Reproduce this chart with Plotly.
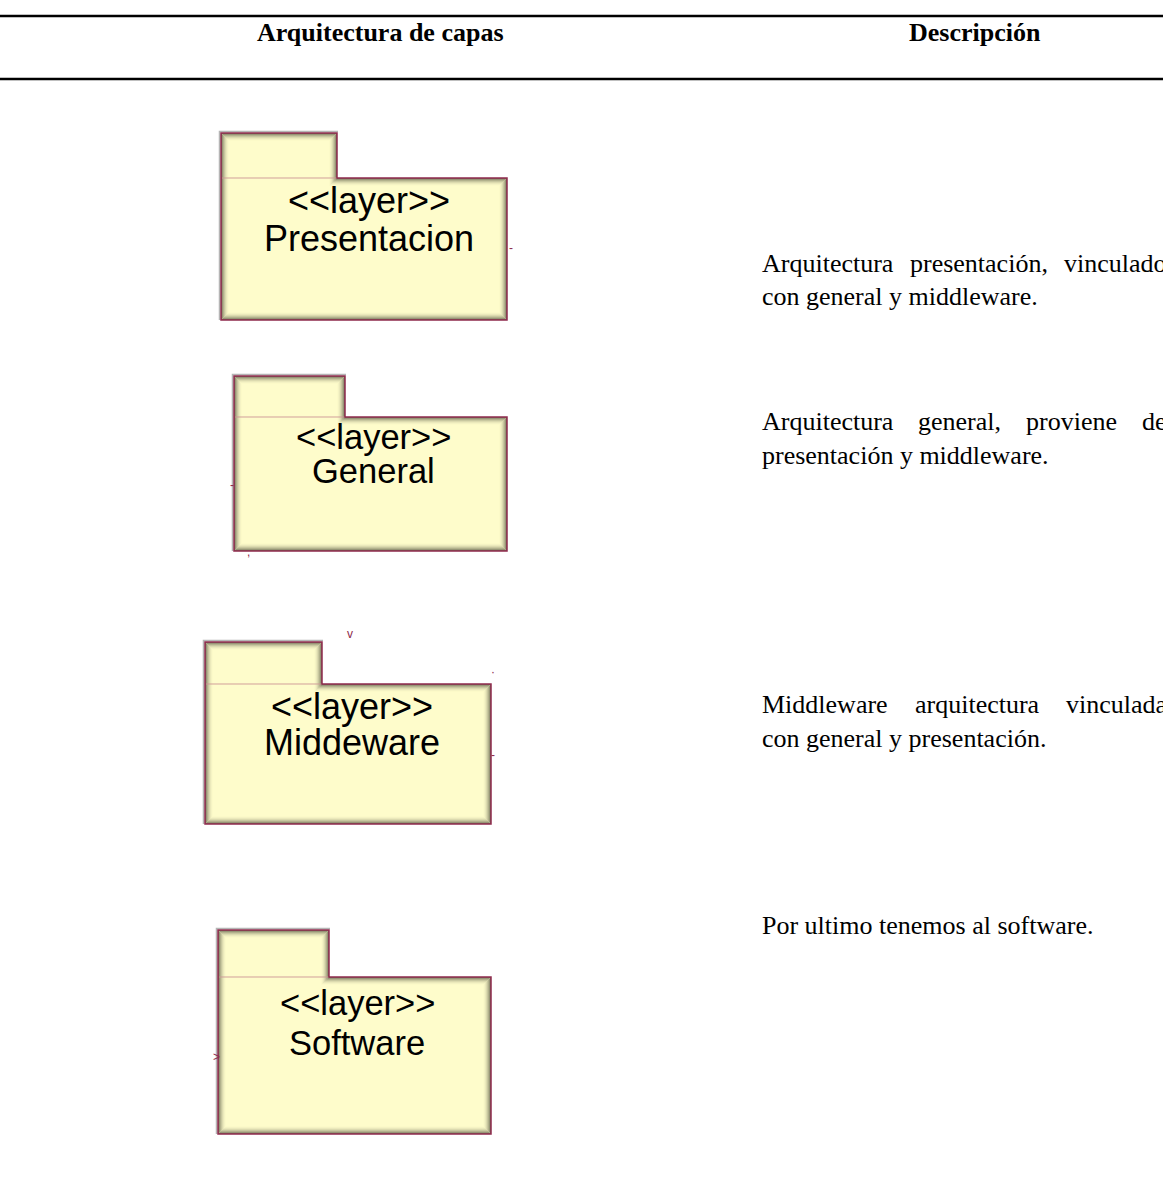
import plotly.graph_objects as go

# ---------------- data ----------------
header_labels = ["Arquitectura de capas", "Descripción"]
stereotype = "<<layer>>"
layer_names = ["Presentacion", "General", "Middeware", "Software"]
descriptions = [
    ["Arquitectura presentación, vinculado", "con general y middleware."],
    ["Arquitectura general, proviene de", "presentación y middleware."],
    ["Middleware arquitectura vinculada", "con general y presentación."],
    ["Por ultimo tenemos al software."],
]

# ---------------- layout (pixel geometry) ----------------
W, H = 1163, 1188
# x0, tab_x1, x1, tab_y0, body_y0, body_y1
box_geom = [
    (221, 337, 507, 133, 178, 320),
    (234, 345, 507, 376, 417, 551),
    (205, 322, 491, 642, 684, 824),
    (218, 329, 491, 930, 977, 1134),
]
# centre x, stereotype y, name y, font size
box_text = [
    (369, 200, 238, 36),
    (373, 437, 471, 34.5),
    (352, 706, 742, 36),
    (357, 1003, 1043, 34.5),
]
desc_x0, desc_x1 = 760, 1165
desc_y = [[263, 296], [421, 455], [704, 738], [925]]
desc_font = 26
header_x = [380, 975]
header_y = 32
rule_y = [16, 79]

FILL = "#FEFCCB"
BORDER = "#8E2A4C"
SERIF = "Liberation Serif, Times New Roman, serif"
SANS = "Liberation Sans, Arial, sans-serif"

# Times New Roman advance widths (per 1000 em)
TW = {"A": 722, "M": 889, "P": 556, "a": 444, "c": 444, "d": 500, "e": 444,
      "f": 333, "g": 500, "i": 278, "l": 278, "m": 778, "n": 500, "o": 500,
      "p": 500, "q": 500, "r": 333, "s": 389, "t": 278, "u": 500, "v": 500,
      "w": 722, "y": 500, "ó": 500, ",": 250, ".": 250, " ": 250}


def text_w(s, size):
    return sum(TW.get(ch, 500) for ch in s) / 1000.0 * size


FW, FH = W, H - 4

fig = go.Figure()
fig.add_trace(go.Scatter(x=[0, W], y=[0, FH], mode="markers",
                         marker=dict(opacity=0), hoverinfo="skip", showlegend=False))

shapes = []
annotations = []

# header rules
for ry in rule_y:
    shapes.append(dict(type="line", x0=-5, x1=W + 5, y0=ry, y1=ry,
                       line=dict(color="black", width=2.5)))
for lbl, hx in zip(header_labels, header_x):
    annotations.append(dict(x=hx, y=header_y, text=f"<b>{lbl}</b>", showarrow=False,
                            xanchor="center", yanchor="middle",
                            font=dict(family=SERIF, size=26, color="black")))


def folder_path(x0, tx1, x1, ty0, by0, by1, k=0.0):
    pts = [(x0 + k, ty0 + k), (tx1 - k, ty0 + k), (tx1 - k, by0 + k),
           (x1 - k, by0 + k), (x1 - k, by1 - k), (x0 + k, by1 - k)]
    return "M " + " L ".join(f"{px},{py}" for px, py in pts) + " Z"


for (x0, tx1, x1, ty0, by0, by1), (cx, sy, ny, fs), name in zip(box_geom, box_text, layer_names):
    # faint outer grey halo on the top/left
    shapes.append(dict(type="path",
                       path=f"M {x0 - 1.5},{by1} L {x0 - 1.5},{ty0 - 1.5} L {tx1 + 1},{ty0 - 1.5}",
                       line=dict(color="rgba(150,150,150,0.7)", width=1.5)))
    # fill
    shapes.append(dict(type="path", path=folder_path(x0, tx1, x1, ty0, by0, by1),
                       fillcolor=FILL, line=dict(width=0)))
    # inner soft shadow
    n = 8
    for i in range(n):
        k = 0.5 + i
        a = 0.95 * (1 - i / n) ** 2.0
        shapes.append(dict(type="path", path=folder_path(x0, tx1, x1, ty0, by0, by1, k),
                           fillcolor="rgba(0,0,0,0)",
                           line=dict(color=f"rgba(110,110,85,{a:.3f})", width=1)))
    # junction between tab and body
    shapes.append(dict(type="line", x0=x0 + 1, x1=tx1, y0=by0, y1=by0,
                       line=dict(color="rgba(205,150,150,0.9)", width=1)))
    # outline
    shapes.append(dict(type="path", path=folder_path(x0, tx1, x1, ty0, by0, by1),
                       fillcolor="rgba(0,0,0,0)", line=dict(color=BORDER, width=1.5)))
    # labels
    annotations.append(dict(x=cx, y=sy, text="&lt;&lt;layer&gt;&gt;", showarrow=False,
                            xanchor="center", yanchor="middle",
                            font=dict(family=SANS, size=fs, color="black")))
    annotations.append(dict(x=cx, y=ny, text=name, showarrow=False,
                            xanchor="center", yanchor="middle",
                            font=dict(family=SANS, size=fs, color="black")))

# small stray connector marks seen in the diagram
marks = [(511, 248, "-"), (350, 634, "v"), (493, 672, "·"), (493, 755, "-"),
         (232, 485, "-"), (248, 552, ","), (216, 1057, ">")]
for mx, my, mt in marks:
    annotations.append(dict(x=mx, y=my, text=mt, showarrow=False, xanchor="center",
                            yanchor="middle", font=dict(family=SANS, size=12, color=BORDER)))

# descriptions (first lines justified)
for lines, ys in zip(descriptions, desc_y):
    for li, (line, ly) in enumerate(zip(lines, ys)):
        words = line.split(" ")
        justify = (li < len(lines) - 1) and len(words) > 1
        if not justify:
            annotations.append(dict(x=desc_x0, y=ly, text=line, showarrow=False,
                                    xanchor="left", yanchor="middle",
                                    font=dict(family=SERIF, size=desc_font, color="black")))
            continue
        widths = [text_w(w, desc_font) for w in words]
        gap = (desc_x1 - desc_x0 - sum(widths)) / (len(words) - 1)
        xpos = desc_x0
        for w, ww in zip(words, widths):
            annotations.append(dict(x=xpos, y=ly, text=w, showarrow=False,
                                    xanchor="left", yanchor="middle",
                                    font=dict(family=SERIF, size=desc_font, color="black")))
            xpos += ww + gap

fig.update_layout(
    width=FW, height=FH,
    margin=dict(l=0, r=0, t=0, b=0),
    paper_bgcolor="white", plot_bgcolor="white",
    xaxis=dict(range=[0, FW], visible=False, fixedrange=True),
    yaxis=dict(range=[FH, 0], visible=False, fixedrange=True),
    shapes=shapes, annotations=annotations, showlegend=False,
)
fig.write_html(
    "out.html",
    config={"displayModeBar": False},
    post_script="document.body.style.margin='0px';document.documentElement.style.overflow='hidden';",
)
